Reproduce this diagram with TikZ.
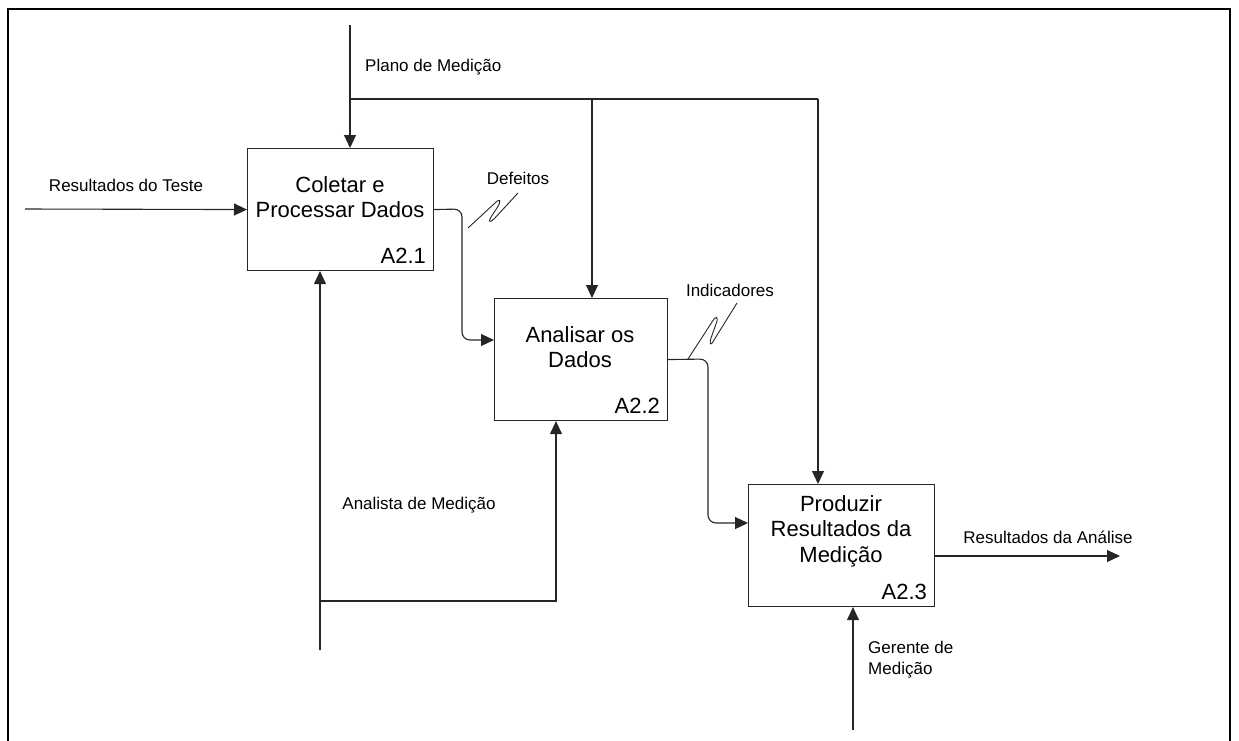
\documentclass[tikz,border=0pt]{standalone}
\usepackage{fontspec}
\setmainfont{Liberation Sans}
\usetikzlibrary{arrows.meta,calc}
\begin{document}
\begin{tikzpicture}[x=1pt,y={(0pt,-1pt)},
  flow/.style={line width=1.1pt,draw=black!85},
  arr/.style={flow,-{Triangle[length=13pt,width=12pt]}},
  actbox/.style={draw=black!85,line width=1.1pt,minimum width=186pt,minimum height=122pt,anchor=north west,inner sep=0pt},
  boxtxt/.style={font=\fontsize{22}{25.5}\selectfont,align=center,inner sep=0pt},
  boxid/.style={font=\fontsize{22}{25}\selectfont,anchor=south east,inner sep=0pt},
  lbl/.style={font=\fontsize{17}{21}\selectfont,inner sep=0pt},
  squig/.style={line width=0.9pt,draw=black!85}]
\useasboundingbox (0,0) rectangle (1239,740);
% outer frame, open at the bottom edge
\draw[line width=2.2pt] (8,760) -- (8,9) -- (1230,9) -- (1230,760);

% activity boxes
\node[actbox,minimum width=186pt] (b1) at (247,148) {};
\node[actbox,minimum width=173pt] (b2) at (494,298) {};
\node[actbox,minimum width=186pt] (b3) at (748,484) {};

\node[boxtxt] (t1) at (340,197) {Coletar e\\Processar Dados};
\node[boxtxt] (t2) at (580,347) {Analisar os\\Dados};
\node[boxtxt] (t3) at (841,531) {Produzir\\Resultados da\\Medição};
\node[boxid] (i1) at ($(b1.south east)+(-8,-7)$) {A2.1};
\node[boxid] (i2) at ($(b2.south east)+(-8,-7)$) {A2.2};
\node[boxid] (i3) at ($(b3.south east)+(-8,-7)$) {A2.3};

% free ends of the boundary arrows
\coordinate (pmtop) at (350,25);
\coordinate (pmsplit) at (350,99);
\coordinate (pmmid) at (592,99);
\coordinate (pmright) at (818,99);
\coordinate (rtin) at (25,209);
\coordinate (anbot) at (320,650);
\coordinate (anjoin) at (320,601);
\coordinate (ancorner) at (556,601);
\coordinate (gmbot) at (853,730);
\coordinate (raout) at (1120,556);

% control: Plano de Medição
\draw[arr] (pmtop) -- (pmtop |- b1.north);
\draw[flow] (pmsplit) -- (pmright);
\draw[arr] (pmmid) -- (pmmid |- b2.north);
\draw[arr] (pmright) -- (pmright |- b3.north);
\node[lbl,anchor=west] (lpm) at (365,67) {Plano de Medição};

% input: Resultados do Teste
\draw[arr] (rtin) -- (b1.west);
\node[lbl] (lrt) at (126,185) {Resultados do Teste};

% Defeitos
\draw[arr,rounded corners=8pt] (b1.east) -- (462,209) -- (462,340) -- ($(b2.north west)+(0,42)$);
\draw[squig] (468,228) -- (495,203) .. controls (500,198) and (502,200) .. (497,208)
  -- (491,217) .. controls (488,222) and (490,223) .. (494,219) -- (518,193);
\node[lbl] (ldf) at (518,178) {Defeitos};

% Indicadores
\draw[arr,rounded corners=8pt] (b2.east) -- (708,359) -- (708,523) -- ($(b3.north west)+(0,39)$);
\draw[squig] (688,359) -- (712,322) .. controls (716,315) and (719,316) .. (716,324)
  -- (711,338) .. controls (709,345) and (711,346) .. (714,340) -- (737,303);
\node[lbl] (lin) at (730,290) {Indicadores};

% output: Resultados da Análise
\draw[arr] ($(b3.north east)+(0,72)$) -- (raout);
\node[lbl] (lra) at (1048,537) {Resultados da Análise};

% mechanism: Analista de Medição
\draw[arr] (anbot) -- (anbot |- b1.south);
\draw[arr] (anjoin) -- (ancorner) -- (ancorner |- b2.south);
\node[lbl] (lan) at (419,505) {Analista de Medição};

% mechanism: Gerente de Medição
\draw[arr] (gmbot) -- (gmbot |- b3.south);
\node[lbl,anchor=north west,align=left,font=\fontsize{17}{21}\selectfont] (lgm) at (868,641) {Gerente de\\Medição};
\end{tikzpicture}
\end{document}
